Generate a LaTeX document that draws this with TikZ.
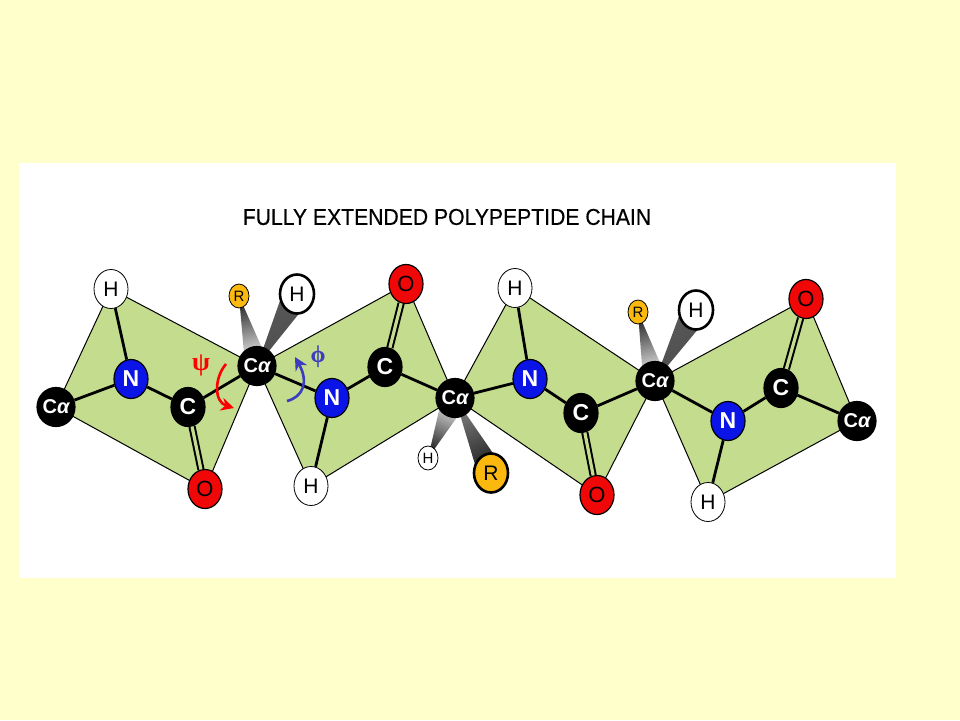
\documentclass[tikz,border=0pt]{standalone}
\usepackage{fontspec}
\setmainfont{Liberation Sans}
\newfontfamily\greekfont{Liberation Serif}
\newfontfamily\titlefont[FakeStretch=0.92,FakeBold=0.4]{Liberation Sans}
\usetikzlibrary{shapes.geometric,calc,backgrounds,arrows.meta}
\definecolor{page-yellow}{HTML}{FFFFCC}
\definecolor{plane-green}{HTML}{C3DC8E}
\definecolor{side-orange}{HTML}{FBB80F}
\definecolor{nitrogen-blue}{HTML}{0A14E6}
\definecolor{oxygen-red}{HTML}{F00808}
\definecolor{phi-blue}{HTML}{3C3CC0}
\tikzset{
    atom/.style = {ellipse, draw=black, line width=1.2pt, inner sep=0pt, minimum width=34pt, minimum height=39pt, font=\fontsize{21}{21}\selectfont},
    alpha-atom/.style = {atom, fill=black, text=white, font=\fontsize{20}{20}\selectfont\bfseries},
    carbon-atom/.style = {atom, fill=black, text=white, font=\fontsize{23}{23}\selectfont\bfseries},
    nitrogen-atom/.style = {atom, fill=nitrogen-blue, text=white, font=\fontsize{23}{23}\selectfont\bfseries},
    oxygen-atom/.style = {atom, fill=oxygen-red, text=black, font=\fontsize{22}{22}\selectfont},
    hydrogen-atom/.style = {atom, fill=white, line width=.8pt},
    big-hydrogen/.style = {atom, fill=white, line width=2.6pt},
    small-hydrogen/.style = {atom, fill=white, line width=.8pt, minimum width=20pt, minimum height=24pt, font=\fontsize{15}{15}\selectfont},
    small-r/.style = {atom, fill=side-orange, line width=.8pt, minimum width=20pt, minimum height=24pt, font=\fontsize{15}{15}\selectfont},
    big-r/.style = {atom, fill=side-orange, line width=2.6pt, font=\fontsize{21}{21}\selectfont},
    peptide-plane/.style = {draw=black, fill=plane-green, line width=1pt},
    bond/.style = {draw=black, line width=2.8pt},
    double-bond/.style = {draw=black, double=plane-green, double distance=3.2pt, line width=2pt},
    turn-arrow/.style = {line width=2.6pt, -{Stealth[length=13pt,width=13pt]}},
}
% narrow end, wide end, half width, shading options
\newcommand{\wedgebond}[4]{\shade[#4] (#1.center) -- ($(#2.center)!#3!90:(#1.center)$) -- ($(#2.center)!#3!-90:(#1.center)$) -- cycle;}

\begin{document}
\begin{tikzpicture}[x=1pt,y=-1pt]
\useasboundingbox (0,0) rectangle (960,720);

\node[font=\titlefont\fontsize{23}{24}\selectfont] (title) at (447,217) {FULLY EXTENDED POLYPEPTIDE CHAIN};

\node[alpha-atom] (ca1) at (56,407) {C{\itshape α}};
\node[nitrogen-atom] (n1) at (131,379) {N};
\node[carbon-atom] (c1) at (188,407) {C};
\node[oxygen-atom] (o1) at (205,489) {O};
\node[hydrogen-atom] (h1) at (111,289) {H};
\node[alpha-atom] (ca2) at (257,366) {C{\itshape α}};
\node[small-r] (r1) at (239,296) {R};
\node[big-hydrogen] (h2) at (297,294) {H};
\node[nitrogen-atom] (n2) at (332,398) {N};
\node[carbon-atom] (c2) at (385,367) {C};
\node[oxygen-atom] (o2) at (406,284) {O};
\node[hydrogen-atom] (h3) at (311,486) {H};
\node[alpha-atom] (ca3) at (455,398) {C{\itshape α}};
\node[small-hydrogen] (h4) at (428,458) {H};
\node[big-r] (r2) at (491,473) {R};
\node[nitrogen-atom] (n3) at (530,379) {N};
\node[carbon-atom] (c3) at (581,413) {C};
\node[oxygen-atom] (o3) at (597,495) {O};
\node[hydrogen-atom] (h5) at (515,288) {H};
\node[alpha-atom] (ca4) at (655,381) {C{\itshape α}};
\node[small-r] (r3) at (638,312) {R};
\node[big-hydrogen] (h6) at (696,310) {H};
\node[nitrogen-atom] (n4) at (728,421) {N};
\node[carbon-atom] (c4) at (781,388) {C};
\node[oxygen-atom] (o4) at (806,299) {O};
\node[hydrogen-atom] (h7) at (708,502) {H};
\node[alpha-atom] (ca5) at (857,421) {C{\itshape α}};

\node[text=red, font=\greekfont\fontsize{26}{26}\selectfont\bfseries] (psi) at (201,365) {ψ};
\node[text=phi-blue, font=\greekfont\fontsize{24}{24}\selectfont\bfseries] (phi) at (318,357) {ϕ};

\begin{pgfonlayer}{background}
\fill[page-yellow] (0,0) rectangle (960,720);
\fill[white] (19,163) rectangle (896,578);
\draw[peptide-plane] (ca1.center) -- (h1.center) -- (ca2.center) -- (o1.center) -- cycle;
\draw[peptide-plane] (ca2.center) -- (o2.center) -- (ca3.center) -- (h3.center) -- cycle;
\draw[peptide-plane] (ca3.center) -- (h5.center) -- (ca4.center) -- (o3.center) -- cycle;
\draw[peptide-plane] (ca4.center) -- (o4.center) -- (ca5.center) -- (h7.center) -- cycle;
\wedgebond{r1}{ca2}{12pt}{top color=black!85, bottom color=white, shading angle=14}
\wedgebond{ca2}{h2}{14pt}{top color=black!65, bottom color=black!70, shading angle=30}
\wedgebond{h4}{ca3}{13pt}{top color=white, bottom color=black!85, shading angle=-24}
\wedgebond{ca3}{r2}{13pt}{top color=black!50, bottom color=black!90, shading angle=25}
\wedgebond{r3}{ca4}{12pt}{top color=black!85, bottom color=white, shading angle=14}
\wedgebond{ca4}{h6}{14pt}{top color=black!65, bottom color=black!70, shading angle=30}
\end{pgfonlayer}

\draw[bond] (ca1) -- (n1);
\draw[bond] (n1) -- (c1);
\draw[bond] (n1) -- (h1);
\draw[bond] (c1) -- (ca2);
\draw[double-bond] (c1) -- (o1);
\draw[bond] (ca2) -- (n2);
\draw[bond] (n2) -- (c2);
\draw[bond] (n2) -- (h3);
\draw[double-bond] (c2) -- (o2);
\draw[bond] (c2) -- (ca3);
\draw[bond] (ca3) -- (n3);
\draw[bond] (n3) -- (c3);
\draw[bond] (n3) -- (h5);
\draw[double-bond] (c3) -- (o3);
\draw[bond] (c3) -- (ca4);
\draw[bond] (ca4) -- (n4);
\draw[bond] (n4) -- (c4);
\draw[bond] (n4) -- (h7);
\draw[double-bond] (c4) -- (o4);
\draw[bond] (c4) -- (ca5);

\coordinate (psi-start) at (226,364);
\coordinate (psi-end) at (234,408);
\coordinate (phi-start) at (287,401);
\coordinate (phi-end) at (295,357);
\draw[turn-arrow, red] (psi-start) .. controls (214,378) and (214,402) .. (psi-end);
\draw[turn-arrow, phi-blue] (phi-start) .. controls (303,397) and (309,382) .. (phi-end);
\end{tikzpicture}
\end{document}
